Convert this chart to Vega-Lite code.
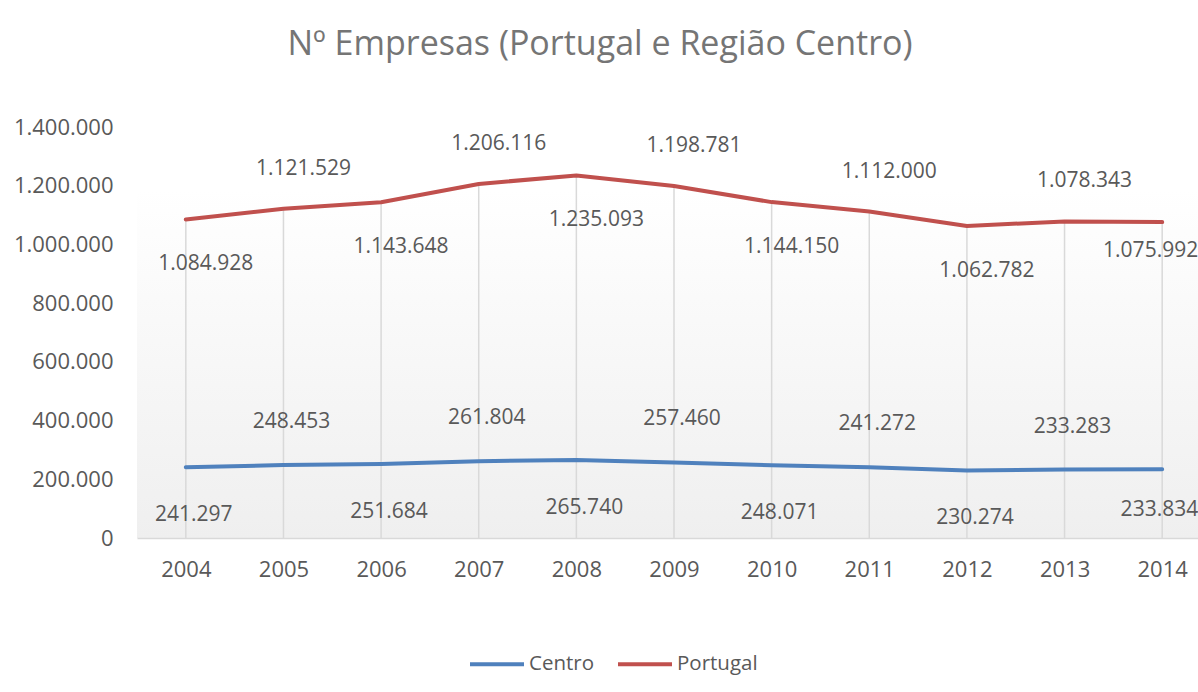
{
  "$schema": "https://vega.github.io/schema/vega-lite/v6.json",
  "autosize": {"type": "none"},
  "width": 1074,
  "height": 411,
  "padding": {"left": 137, "top": 127, "right": 0, "bottom": 154},
  "background": "#ffffff",
  "title": {
    "text": "Nº Empresas (Portugal e Região Centro)",
    "anchor": "middle",
    "frame": "group",
    "dx": -74,
    "offset": 54,
    "font": "Open Sans",
    "fontSize": 34,
    "fontWeight": "normal",
    "color": "#757575"
  },
  "config": {
    "locale": {"number": {"decimal": ",", "thousands": ".", "grouping": [3], "currency": ["€", ""]}},
    "font": "Open Sans",
    "view": {
      "stroke": null,
      "fill": {"gradient": "linear", "x1": 0, "y1": 0, "x2": 0, "y2": 1,
        "stops": [{"offset": 0, "color": "#ffffff"}, {"offset": 0.15, "color": "#ffffff"}, {"offset": 1, "color": "#efefef"}]}
    }
  },
  "data": {
    "values": [
      {"year": "2004", "series": "Centro", "value": 241297},
      {"year": "2005", "series": "Centro", "value": 248453},
      {"year": "2006", "series": "Centro", "value": 251684},
      {"year": "2007", "series": "Centro", "value": 261804},
      {"year": "2008", "series": "Centro", "value": 265740},
      {"year": "2009", "series": "Centro", "value": 257460},
      {"year": "2010", "series": "Centro", "value": 248071},
      {"year": "2011", "series": "Centro", "value": 241272},
      {"year": "2012", "series": "Centro", "value": 230274},
      {"year": "2013", "series": "Centro", "value": 233283},
      {"year": "2014", "series": "Centro", "value": 233834},
      {"year": "2004", "series": "Portugal", "value": 1084928},
      {"year": "2005", "series": "Portugal", "value": 1121529},
      {"year": "2006", "series": "Portugal", "value": 1143648},
      {"year": "2007", "series": "Portugal", "value": 1206116},
      {"year": "2008", "series": "Portugal", "value": 1235093},
      {"year": "2009", "series": "Portugal", "value": 1198781},
      {"year": "2010", "series": "Portugal", "value": 1144150},
      {"year": "2011", "series": "Portugal", "value": 1112000},
      {"year": "2012", "series": "Portugal", "value": 1062782},
      {"year": "2013", "series": "Portugal", "value": 1078343},
      {"year": "2014", "series": "Portugal", "value": 1075992}
    ]
  },
  "encoding": {
    "x": {
      "field": "year", "type": "ordinal",
      "scale": {"type": "point", "padding": 0.5},
      "axis": {
        "title": null, "labelAngle": 0, "ticks": false, "grid": false,
        "domain": true, "domainColor": "#d9d9d9", "domainWidth": 1.5,
        "labelFontSize": 22, "labelColor": "#595959", "labelPadding": 21, "labelFont": "Open Sans"
      }
    },
    "y": {
      "field": "value", "type": "quantitative",
      "scale": {"domain": [0, 1400000], "nice": false},
      "axis": {
        "title": null, "values": [0, 200000, 400000, 600000, 800000, 1000000, 1200000, 1400000],
        "format": ",d", "ticks": false, "domain": false, "grid": false,
        "labelFontSize": 22, "labelColor": "#595959", "labelPadding": 24, "labelFont": "Open Sans"
      }
    }
  },
  "layer": [
    {
      "transform": [{"filter": "datum.series == 'Portugal'"}],
      "mark": {"type": "rule", "color": "#d9d9d9", "strokeWidth": 1.5},
      "encoding": {"y2": {"datum": 0}}
    },
    {
      "mark": {"type": "line", "strokeWidth": 4, "interpolate": "linear", "strokeCap": "round", "strokeJoin": "round"},
      "encoding": {
        "color": {
          "field": "series", "type": "nominal",
          "scale": {"domain": ["Centro", "Portugal"], "range": ["#4f81bd", "#c0504d"]},
          "legend": {
            "title": null, "orient": "none", "direction": "horizontal",
            "legendX": 331, "legendY": 508,
            "symbolType": "stroke", "symbolSize": 2916, "symbolStrokeWidth": 4,
            "labelFontSize": 20.5, "labelColor": "#595959", "labelOffset": 3,
            "columnPadding": 15, "padding": 0, "labelFont": "Open Sans"
          }
        }
      }
    },
    {
      "transform": [{"filter": "datum.series == 'Portugal' && toNumber(datum.year) % 2 == 1"}],
      "mark": {"type": "text", "dy": -40, "dx": 20, "fontSize": 21, "color": "#595959", "font": "Open Sans"},
      "encoding": {"text": {"field": "value", "type": "quantitative", "format": ",d"}}
    },
    {
      "transform": [{"filter": "datum.series == 'Portugal' && toNumber(datum.year) % 2 == 0 && datum.year != '2014'"}],
      "mark": {"type": "text", "dy": 45, "dx": 20, "fontSize": 21, "color": "#595959", "font": "Open Sans"},
      "encoding": {"text": {"field": "value", "type": "quantitative", "format": ",d"}}
    },
    {
      "transform": [{"filter": "datum.series == 'Centro' && toNumber(datum.year) % 2 == 1"}],
      "mark": {"type": "text", "dy": -43, "dx": 8, "fontSize": 21, "color": "#595959", "font": "Open Sans"},
      "encoding": {"text": {"field": "value", "type": "quantitative", "format": ",d"}}
    },
    {
      "transform": [{"filter": "datum.series == 'Centro' && toNumber(datum.year) % 2 == 0 && datum.year != '2014'"}],
      "mark": {"type": "text", "dy": 48, "dx": 8, "fontSize": 21, "color": "#595959", "font": "Open Sans"},
      "encoding": {"text": {"field": "value", "type": "quantitative", "format": ",d"}}
    },
    {
      "transform": [{"filter": "datum.series == 'Portugal' && datum.year == '2014'"}],
      "mark": {"type": "text", "dy": 29, "dx": 36, "align": "right", "fontSize": 21, "color": "#595959", "font": "Open Sans"},
      "encoding": {"text": {"field": "value", "type": "quantitative", "format": ",d"}}
    },
    {
      "transform": [{"filter": "datum.series == 'Centro' && datum.year == '2014'"}],
      "mark": {"type": "text", "dy": 41, "dx": 36, "align": "right", "fontSize": 21, "color": "#595959", "font": "Open Sans"},
      "encoding": {"text": {"field": "value", "type": "quantitative", "format": ",d"}}
    }
  ]
}
